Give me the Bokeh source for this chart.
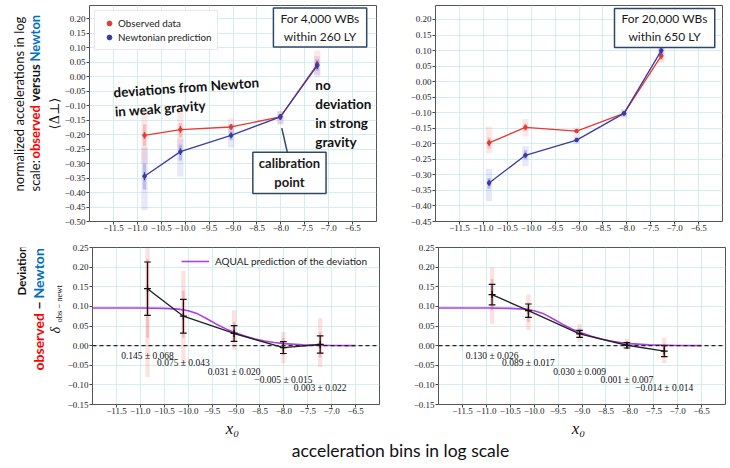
import math
from bokeh.plotting import figure
from bokeh.models import (FixedTicker, CustomJSTickFormatter, Label, Legend, LegendItem,
                          Span, Arrow)
from bokeh.layouts import column, row
from bokeh.embed import file_html
from bokeh.resources import INLINE

# ---------------- data ----------------
x_left = [-10.85, -10.10, -9.04, -8.01, -7.24]
x_right = [-10.88, -10.12, -9.05, -8.06, -7.28]

# top-left: 4,000 WBs within 260 LY
tl_obs = [-0.203, -0.183, -0.174, -0.139, 0.042]
tl_obs_err = [0.012, 0.012, 0.010, 0.010, 0.012]
tl_newt = [-0.344, -0.259, -0.203, -0.139, 0.038]
tl_newt_err = [0.014, 0.012, 0.010, 0.010, 0.012]
tl_obs_lo = [-0.300, -0.250, -0.195, -0.165, 0.005]
tl_obs_q1 = [-0.240, -0.210, -0.185, -0.150, 0.025]
tl_obs_q3 = [-0.165, -0.160, -0.165, -0.130, 0.060]
tl_obs_hi = [-0.115, -0.110, -0.145, -0.120, 0.090]
tl_newt_lo = [-0.460, -0.345, -0.245, -0.165, 0.000]
tl_newt_q1 = [-0.390, -0.290, -0.220, -0.150, 0.020]
tl_newt_q3 = [-0.300, -0.235, -0.190, -0.130, 0.055]
tl_newt_hi = [-0.245, -0.215, -0.165, -0.120, 0.070]

# top-right: 20,000 WBs within 650 LY
tr_obs = [-0.197, -0.147, -0.159, -0.102, 0.083]
tr_obs_err = [0.010, 0.008, 0.006, 0.006, 0.010]
tr_newt = [-0.326, -0.237, -0.188, -0.102, 0.100]
tr_newt_err = [0.010, 0.008, 0.006, 0.006, 0.010]
tr_obs_lo = [-0.230, -0.176, -0.168, -0.115, 0.060]
tr_obs_q1 = [-0.215, -0.160, -0.164, -0.108, 0.070]
tr_obs_q3 = [-0.180, -0.135, -0.152, -0.096, 0.095]
tr_obs_hi = [-0.145, -0.120, -0.148, -0.090, 0.110]
tr_newt_lo = [-0.385, -0.272, -0.200, -0.115, 0.080]
tr_newt_q1 = [-0.345, -0.250, -0.195, -0.108, 0.085]
tr_newt_q3 = [-0.310, -0.220, -0.180, -0.096, 0.110]
tr_newt_hi = [-0.280, -0.208, -0.170, -0.090, 0.120]

# bottom: deviation observed - Newton
bl_dev = [0.145, 0.075, 0.031, -0.005, 0.003]
bl_err = [0.068, 0.043, 0.020, 0.015, 0.022]
bl_lo = [-0.080, -0.050, -0.010, -0.045, -0.055]
bl_q1 = [0.020, 0.020, 0.010, -0.025, -0.030]
bl_q3 = [0.220, 0.140, 0.060, 0.020, 0.035]
bl_hi = [0.250, 0.190, 0.090, 0.035, 0.070]

br_dev = [0.130, 0.089, 0.030, 0.001, -0.014]
br_err = [0.026, 0.017, 0.009, 0.007, 0.014]
br_lo = [0.055, 0.040, 0.010, -0.010, -0.045]
br_q1 = [0.090, 0.060, 0.020, -0.005, -0.030]
br_q3 = [0.170, 0.110, 0.045, 0.012, 0.005]
br_hi = [0.200, 0.130, 0.055, 0.018, 0.020]

# AQUAL prediction curve
aqual_x = [-12.0, -11.0, -10.5, -10.2, -10.0, -9.8, -9.6, -9.4, -9.2, -9.0,
           -8.8, -8.6, -8.4, -8.2, -8.0, -7.6, -7.0, -6.5]
aqual_y = [0.096, 0.096, 0.095, 0.093, 0.089, 0.081, 0.068, 0.054, 0.042, 0.032,
           0.024, 0.017, 0.012, 0.008, 0.005, 0.002, 0.0005, 0.0]

x_ticks = [-11.5, -11.0, -10.5, -10.0, -9.5, -9.0, -8.5, -8.0, -7.5, -7.0, -6.5]
x_grid = [-12.0, -11.5, -11.0, -10.5, -10.0, -9.5, -9.0, -8.5, -8.0, -7.5, -7.0, -6.5, -6.0]
tl_yticks = [-0.50, -0.45, -0.40, -0.35, -0.30, -0.25, -0.20, -0.15, -0.10, -0.05,
             0.0, 0.05, 0.10, 0.15, 0.20]
tr_yticks = [-0.45, -0.40, -0.35, -0.30, -0.25, -0.20, -0.15, -0.10, -0.05,
             0.0, 0.05, 0.10, 0.15, 0.20]
b_yticks = [-0.15, -0.10, -0.05, 0.0, 0.05, 0.10, 0.15, 0.20, 0.25]

# ---------------- style ----------------
SANS = "Lato"
SERIF = "Liberation Serif"
RED = "#e63a33"
BLUE = "#3a3aa6"
RED_CLOUD = "#f05a5a"
BLUE_CLOUD = "#5a5ad0"
BOX = "#2d4866"
WORD_RED = "#ff0000"
WORD_BLUE = "#0070c0"
GRID = "#d4eef0"
INK = "#111111"

fmt1 = CustomJSTickFormatter(code="var s = Math.abs(tick).toFixed(1); return (tick < -1e-9 ? '\u2212' : '') + s;")
fmt2 = CustomJSTickFormatter(code="var s = Math.abs(tick).toFixed(2); return (tick < -1e-9 ? '\u2212' : '') + s;")


def panel(y_range, yticks, fh, bl, br, bt, bb):
    p = figure(x_range=(-12.0, -6.0), y_range=y_range, frame_width=287, frame_height=fh,
               min_border_left=bl, min_border_right=br, min_border_top=bt, min_border_bottom=bb,
               toolbar_location=None, output_backend="svg",
               background_fill_color="white", border_fill_color="white")
    p.outline_line_color = "#555555"
    p.outline_line_width = 1
    for ax in (p.xaxis[0], p.yaxis[0]):
        ax.axis_line_color = None
        ax.major_tick_line_color = "#444444"
        ax.major_tick_out = 3
        ax.major_tick_in = 0
        ax.minor_tick_line_color = None
        ax.major_label_text_font = SERIF
        ax.major_label_text_font_size = "9px"
        ax.major_label_text_color = "#222222"
    p.xaxis.major_label_standoff = 0
    p.yaxis.major_label_standoff = 1
    p.xaxis.ticker = FixedTicker(ticks=x_ticks)
    p.yaxis.ticker = FixedTicker(ticks=yticks)
    p.xaxis.formatter = fmt1
    p.yaxis.formatter = fmt2
    p.xgrid.ticker = FixedTicker(ticks=x_grid)
    p.ygrid.ticker = FixedTicker(ticks=yticks)
    p.grid.grid_line_color = GRID
    p.grid.grid_line_width = 1
    return p


def top_series(p, xs, mean, err, lo, q1, q3, hi, cloud_color, color):
    p.vbar(x=xs, width=0.13, bottom=lo, top=hi, fill_color=cloud_color, fill_alpha=0.14, line_color=None)
    p.vbar(x=xs, width=0.07, bottom=q1, top=q3, fill_color=cloud_color, fill_alpha=0.30, line_color=None)
    p.line(xs, mean, line_color=color, line_width=1.3)
    ylo = [m - e for m, e in zip(mean, err)]
    yhi = [m + e for m, e in zip(mean, err)]
    p.segment(x0=xs, y0=ylo, x1=xs, y1=yhi, line_color=color, line_width=1.3)
    return p.scatter(xs, mean, marker="circle", size=3.5, fill_color=color, line_color=color)


def bottom_series(p, xs, dev, err, lo, q1, q3, hi, labels_y):
    p.vbar(x=xs, width=0.09, bottom=lo, top=hi, fill_color=RED_CLOUD, fill_alpha=0.18, line_color=None)
    p.vbar(x=xs, width=0.05, bottom=q1, top=q3, fill_color=RED_CLOUD, fill_alpha=0.32, line_color=None)
    p.add_layout(Span(location=0, dimension="width", line_color="#222222", line_width=1.3, line_dash="4 3"))
    aq = p.line(aqual_x, aqual_y, line_color="#b23ee0", line_width=1.6)
    ylo = [m - e for m, e in zip(dev, err)]
    yhi = [m + e for m, e in zip(dev, err)]
    p.segment(x0=xs, y0=ylo, x1=xs, y1=yhi, line_color=INK, line_width=1.2)
    cap = 0.07
    p.segment(x0=[x - cap for x in xs], y0=ylo, x1=[x + cap for x in xs], y1=ylo, line_color=INK, line_width=1.2)
    p.segment(x0=[x - cap for x in xs], y0=yhi, x1=[x + cap for x in xs], y1=yhi, line_color=INK, line_width=1.2)
    p.line(xs, dev, line_color="#222222", line_width=1.4)
    p.scatter(xs, dev, marker="cross", size=7, line_color=INK, line_width=1.3)
    for x, d, e, ly in zip(xs, dev, err, labels_y):
        txt = ("\u2212" if d < 0 else "") + "%.3f \u00b1 %.3f" % (abs(d), e)
        p.add_layout(Label(x=x, y=ly, text=txt, text_align="center", text_baseline="middle",
                           text_font=SERIF, text_font_size="9.5px", text_color=INK))
    return aq


def blank(w, h):
    f = figure(width=w, height=h, min_border=0, toolbar_location=None, output_backend="svg",
               x_axis_type=None, y_axis_type=None, x_range=(0, 1), y_range=(0, 1))
    f.outline_line_color = None
    f.grid.visible = False
    return f


def rot(p, sx, sy, text, size, color=INK, bold=False, font=SANS, align="left",
        baseline="alphabetic", italic=False):
    style = "bold" if bold else ("italic" if italic else "normal")
    p.add_layout(Label(x=sx, y=sy, x_units="screen", y_units="screen", angle=math.pi / 2,
                       text=text, text_font=font, text_font_size=size, text_color=color,
                       text_font_style=style, text_align=align, text_baseline=baseline))


# ---------------- left label columns ----------------
L1 = blank(42, 243)
rot(L1, 18, 30, "normalized accelerations in log", "13px")
rot(L1, 34, 30, "scale:", "13px")
rot(L1, 34, 63, "observed", "13px", WORD_RED, bold=True)
rot(L1, 34, 120, "versus", "13px", INK, bold=True)
rot(L1, 34, 160, "Newton", "13px", WORD_BLUE, bold=True)

L2 = blank(64, 176)
rot(L2, 21, 109, "Deviation:", "11.5px", INK, bold=True)
rot(L2, 38, 34, "observed", "14px", WORD_RED, bold=True)
rot(L2, 38, 95, "\u2212", "14px", INK, bold=True)
rot(L2, 38, 106, "Newton", "14px", WORD_BLUE, bold=True)
rot(L2, 55, 71, "\u03b4", "14px", font=SERIF, italic=True)
rot(L2, 58, 82, "obs \u2212 newt", "8.5px", font=SERIF)

# ---------------- top-left ----------------
tl = panel((-0.50, 0.245), tl_yticks, 216, 47, 20, 5, 22)
tl.yaxis.axis_label = "\u27e8\u0394\u22a5\u27e9"
tl.yaxis.axis_label_text_font = "DejaVu Serif"
tl.yaxis.axis_label_text_font_style = "normal"
tl.yaxis.axis_label_text_font_size = "13px"
tl.yaxis.axis_label_text_color = INK
tl.yaxis.axis_label_standoff = 0
r_obs = top_series(tl, x_left, tl_obs, tl_obs_err, tl_obs_lo, tl_obs_q1, tl_obs_q3, tl_obs_hi, RED_CLOUD, RED)
r_newt = top_series(tl, x_left, tl_newt, tl_newt_err, tl_newt_lo, tl_newt_q1, tl_newt_q3, tl_newt_hi, BLUE_CLOUD, BLUE)
leg = Legend(items=[LegendItem(label="Observed data", renderers=[r_obs]),
                    LegendItem(label="Newtonian prediction", renderers=[r_newt])],
             location="top_left", margin=5, padding=6, spacing=2,
             glyph_width=16, glyph_height=12, label_height=12, label_standoff=1,
             label_text_font=SANS, label_text_font_size="9.8px", label_text_color="#222222",
             border_line_color="#d0d0d0", border_line_width=1, background_fill_color="white",
             background_fill_alpha=1.0)
tl.add_layout(leg)

tl.add_layout(Label(x=-7.18, y=0.169, text="For 4,000 WBs\nwithin 260 LY", text_align="center",
                    text_baseline="middle", text_font=SANS, text_font_size="12px", text_color="#1a1a1a",
                    border_line_color=BOX, border_line_width=1.5, background_fill_color="white",
                    padding=dict(x=7, y=3)))
tl.add_layout(Arrow(end=None, x_start=-7.98, y_start=-0.178, x_end=-7.86, y_end=-0.264,
                    line_color=BOX, line_width=1.5))
tl.add_layout(Label(x=-7.82, y=-0.332, text="calibration\npoint", text_align="center",
                    text_baseline="middle", text_font=SANS, text_font_size="13px", text_font_style="bold",
                    text_color="#1a1a1a", border_line_color=BOX, border_line_width=1.5,
                    background_fill_color="white", padding=dict(x=6, y=3)))
tl.add_layout(Label(x=-11.51, y=-0.0275, angle=0.07, text="deviations from Newton\nin weak gravity",
                    text_align="left", text_baseline="top", text_font=SANS, text_font_size="13.5px",
                    text_font_style="bold", text_color=INK))
tl.add_layout(Label(x=-7.28, y=0.0, text="no\ndeviation\nin strong\ngravity",
                    text_align="left", text_baseline="top", text_font=SANS, text_font_size="13.5px",
                    text_font_style="bold", text_color=INK))

# ---------------- top-right ----------------
tr = panel((-0.45, 0.245), tr_yticks, 216, 39, 8, 5, 22)
top_series(tr, x_right, tr_obs, tr_obs_err, tr_obs_lo, tr_obs_q1, tr_obs_q3, tr_obs_hi, RED_CLOUD, RED)
top_series(tr, x_right, tr_newt, tr_newt_err, tr_newt_lo, tr_newt_q1, tr_newt_q3, tr_newt_hi, BLUE_CLOUD, BLUE)
tr.add_layout(Label(x=-7.21, y=0.173, text="For 20,000 WBs\nwithin 650 LY", text_align="center",
                    text_baseline="middle", text_font=SANS, text_font_size="12px", text_color="#1a1a1a",
                    border_line_color=BOX, border_line_width=1.5, background_fill_color="white",
                    padding=dict(x=7, y=3)))

# ---------------- bottom-left ----------------
label_y = [-0.026, -0.045, -0.068, -0.087, -0.108]
bl = panel((-0.15, 0.25), b_yticks, 157, 25, 20, 4, 15)
aq = bottom_series(bl, x_left, bl_dev, bl_err, bl_lo, bl_q1, bl_q3, bl_hi, label_y)
bl.add_layout(Legend(items=[LegendItem(label="AQUAL prediction of the deviation", renderers=[aq])],
                     location=(89, 137), padding=2, margin=0, glyph_width=28, glyph_height=12,
                     label_height=12, label_standoff=6, label_text_font=SANS, label_text_font_size="10px",
                     label_text_color="#222222", border_line_color=None, background_fill_alpha=0))

# ---------------- bottom-right ----------------
br = panel((-0.15, 0.25), b_yticks, 157, 39, 8, 4, 15)
bottom_series(br, x_right, br_dev, br_err, br_lo, br_q1, br_q3, br_hi, label_y)

# ---------------- x labels and caption ----------------
cap = blank(730, 49)
for cx in (232, 578):
    cap.add_layout(Label(x=cx, y=40, x_units="screen", y_units="screen", text="x\u2080",
                         text_align="center", text_baseline="alphabetic", text_font=SERIF,
                         text_font_style="italic", text_font_size="17px", text_color=INK))
cap.add_layout(Label(x=400, y=18, x_units="screen", y_units="screen", text="acceleration bins in log scale",
                     text_align="center", text_baseline="alphabetic", text_font=SANS,
                     text_font_size="17.5px", text_color=INK))

layout = column(row(L1, tl, tr), row(L2, bl, br), cap)
open("out.html", "w", encoding="utf-8").write(file_html(layout, INLINE))
